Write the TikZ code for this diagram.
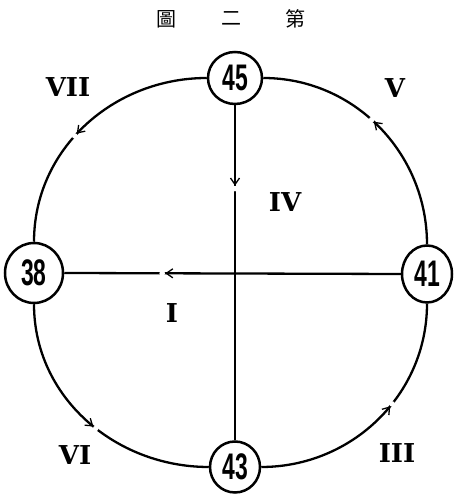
\documentclass[tikz,border=0pt]{standalone}
\usepackage{fontspec}
\newfontfamily\numfont[FakeStretch=0.62]{Liberation Sans}
\newfontfamily\slabfont{DejaVu Serif}
\newfontfamily\cjk{Noto Sans CJK TC}
\usetikzlibrary{shapes.geometric,arrows.meta,decorations.markings}
\begin{document}
\begin{tikzpicture}[x=1pt,y=1pt,
  station/.style={ellipse,draw,line width=2.5pt,inner sep=0pt,
    font=\numfont\bfseries\fontsize{37}{37}\selectfont},
  numeral/.style={font=\slabfont\bfseries\fontsize{26}{26}\selectfont,inner sep=0pt},
  titlechar/.style={font=\cjk\fontsize{20}{20}\selectfont,inner sep=0pt},
  conn/.style={line width=2.3pt},
  flow/.style={postaction={decorate,decoration={markings,
    mark=at position #1 with {\fill[white] (3pt,0) circle (2.8pt);
      \arrow[line width=1.3pt]{Straight Barb[length=6.5pt,width=9pt]}}}}}
]
\useasboundingbox (0,0) rectangle (453,497);
\fill[white] (0,0) rectangle (453,497);

\node[station,minimum width=54pt,minimum height=52pt] (n45) at (235,419) {45};
\node[station,minimum width=58pt,minimum height=60pt] (n38) at (34,224) {38};
\node[station,minimum width=50pt,minimum height=57pt] (n41) at (427,223) {41};
\node[station,minimum width=50pt,minimum height=51pt] (n43) at (235,30) {43};

\draw[conn,flow=0.55] (n45.west) to[out=180,in=90] (n38.north);
\draw[conn,flow=0.53] (n41.north) to[out=90,in=0] (n45.east);
\draw[conn,flow=0.53] (n38.south) to[out=-90,in=180] (n43.west);
\draw[conn,flow=0.57] (n43.east) to[out=0,in=-90] (n41.south);
\draw[conn,flow=0.70] (n41.west) -- (n38.east);
\draw[conn,flow=0.24] (n45.south) -- (n43.north);

\node[numeral] (lVII) at (68,410) {VII};
\node[numeral] (lV) at (395,409) {V};
\node[numeral] (lIV) at (285,295) {IV};
\node[numeral] (lI) at (172,184) {I};
\node[numeral] (lVI) at (75,42) {VI};
\node[numeral] (lIII) at (397,44) {III};

\node[titlechar] (t1) at (166,478) {圖};
\node[titlechar] (t2) at (231,478) {二};
\node[titlechar] (t3) at (295,478) {第};
\end{tikzpicture}
\end{document}
